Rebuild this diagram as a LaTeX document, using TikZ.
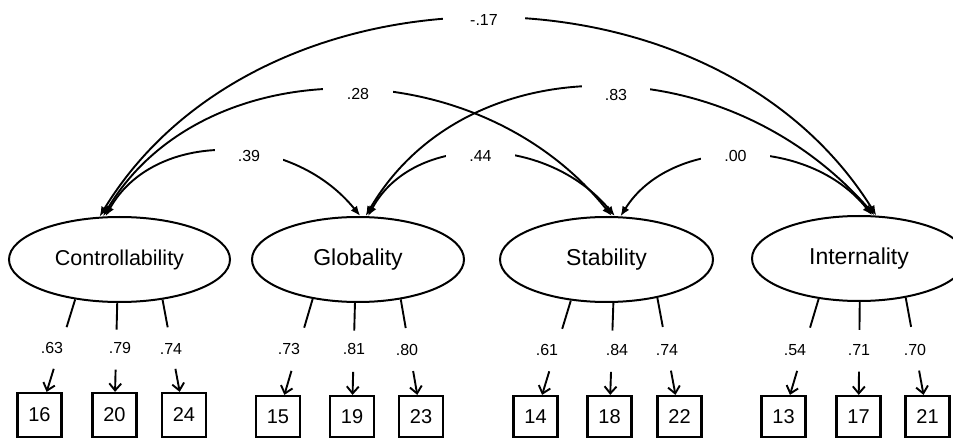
\documentclass[tikz,border=0pt]{standalone}
\usepackage{fontspec}
\setmainfont{Liberation Sans}
\usetikzlibrary{arrows.meta,shapes.geometric}
\newcommand\semload[2]{%
  \path (#1) -- (#2) coordinate[pos=0.3] (la) coordinate[pos=0.75] (lb);
  \draw[load] (#1) -- (la);
  \draw[loadarrow] (lb) -- (#2);
}
\begin{document}
\begin{tikzpicture}[x=1pt,y=-1pt,
  latent/.style={ellipse,draw,line width=2pt,inner sep=0pt,minimum width=213pt,minimum height=85pt,font=\fontsize{23}{27}\selectfont},
  obs/.style={rectangle,draw,line width=2.2pt,inner sep=0pt,minimum width=44pt,minimum height=41pt,font=\fontsize{20}{24}\selectfont},
  cov/.style={line width=1.9pt,{Latex[length=10pt,width=8pt]}-{Latex[length=10pt,width=8pt]}},
  load/.style={line width=1.9pt},
  loadarrow/.style={line width=1.9pt,-{Straight Barb[length=7pt,width=12pt]}},
  coef/.style={font=\fontsize{16}{19}\selectfont,inner sep=0pt},
  covlab/.style={coef,fill=white,minimum height=22pt},
]
\useasboundingbox (0,0) rectangle (953,438);
\fill[white] (0,0) rectangle (953,438);

% latent variables
\node[latent,minimum width=221pt,font=\fontsize{21.5}{25}\selectfont] (ctl) at (119.5,259.5) {Controllability};
\node[latent,minimum width=212pt] (glo) at (358,259.5) {Globality};
\node[latent] (sta) at (606.5,259.5) {Stability};
\node[latent,minimum width=214pt] (int) at (859,258.5) {Internality};

% observed variables
\node[obs,minimum height=44pt] (b16) at (39.5,415) {16};
\node[obs,minimum height=44pt] (b20) at (114.5,415) {20};
\node[obs,minimum height=44pt] (b24) at (184,415) {24};
\node[obs] (b15) at (278,416.5) {15};
\node[obs] (b19) at (352,416.5) {19};
\node[obs] (b23) at (421,416.5) {23};
\node[obs] (b14) at (535.5,416.5) {14};
\node[obs] (b18) at (609.5,416.5) {18};
\node[obs] (b22) at (679.5,416.5) {22};
\node[obs] (b13) at (783.5,416.5) {13};
\node[obs] (b17) at (858.5,416.5) {17};
\node[obs] (b21) at (927.5,416.5) {21};

% loadings
\semload{ctl.222}{b16}
\semload{ctl.267}{b20}
\semload{ctl.317}{b24}
\semload{glo.221}{b15}
\semload{glo.266}{b19}
\semload{glo.317}{b23}
\semload{sta.229}{b14}
\semload{sta.279}{b18}
\semload{sta.323}{b22}
\semload{int.225}{b13}
\semload{int.271}{b17}
\semload{int.320}{b21}

\node[coef] (c63) at (52,348) {.63};
\node[coef] (c79) at (120,348) {.79};
\node[coef] (c74a) at (171,349) {.74};
\node[coef] (c73) at (289,349) {.73};
\node[coef] (c81) at (354,349) {.81};
\node[coef] (c80) at (407,350) {.80};
\node[coef] (c61) at (547,350) {.61};
\node[coef] (c84) at (617,350) {.84};
\node[coef] (c74b) at (667,350) {.74};
\node[coef] (c54) at (795,350) {.54};
\node[coef] (c71) at (859,350) {.71};
\node[coef] (c70) at (915,350) {.70};

% covariances
\draw[cov] (ctl.115) .. controls +(160,-263) and +(-164,-263) .. (int.68);
\draw[cov] (ctl.111) .. controls +(100,-168) and +(-135,-168) .. (sta.83);
\draw[cov] (ctl.108) .. controls +(48,-86) and +(-70,-86) .. (glo.87);
\draw[cov] (glo.80) .. controls +(100,-171) and +(-150,-171) .. (int.70);
\draw[cov] (glo.77) .. controls +(45,-83) and +(-70,-83) .. (sta.79);
\draw[cov] (sta.72) .. controls +(50,-80) and +(-64,-80) .. (int.73);

\node[covlab,minimum width=82pt] (k17) at (484,20) {-.17};
\node[covlab,minimum width=70pt] (k28) at (358,94) {.28};
\node[covlab,minimum width=68pt] (k83) at (616,95) {.83};
\node[covlab,minimum width=68pt] (k39) at (249,156) {.39};
\node[covlab,minimum width=69pt] (k44) at (480.5,156) {.44};
\node[covlab,minimum width=69pt] (k00) at (735.5,156) {.00};
\end{tikzpicture}
\end{document}
